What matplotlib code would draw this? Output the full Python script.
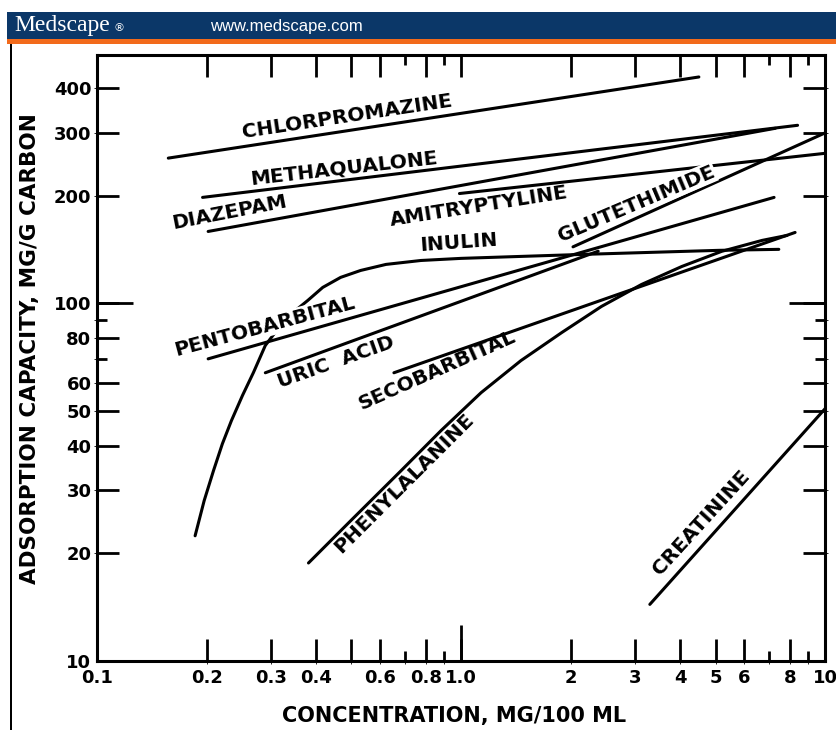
import matplotlib
matplotlib.use("Agg")
import matplotlib.pyplot as plt
from matplotlib.patches import Rectangle

# Adsorption isotherms (x: mg/100 ml, y: mg/g carbon)
chlorpromazine_x = [0.157, 4.5]
chlorpromazine_y = [255, 430]
methaqualone_x = [0.195, 8.4]
methaqualone_y = [198, 315]
diazepam_x = [0.202, 7.3]
diazepam_y = [159, 309]
amitriptyline_x = [0.99, 10.0]
amitriptyline_y = [203, 263]
glutethimide_x = [2.03, 10.0]
glutethimide_y = [144, 300]
uric_acid_x = [0.29, 2.38]
uric_acid_y = [64, 140]
pentobarbital_x = [0.202, 7.24]
pentobarbital_y = [70, 198]
inulin_x = [0.186, 0.197, 0.209, 0.221, 0.234, 0.251, 0.269, 0.290, 0.319,
            0.351, 0.379, 0.417, 0.467, 0.530, 0.622, 0.776, 1.0, 1.46,
            2.18, 3.34, 5.11, 7.46]
inulin_y = [22.4, 28.1, 34.1, 40.5, 47.0, 55.3, 64.1, 76.3, 86.8,
            95.6, 101.9, 110.9, 118.3, 123.7, 128.6, 131.9, 133.7, 135.4,
            137.2, 139.0, 140.8, 141.7]
secobarbital_x = [0.654, 8.27]
secobarbital_y = [64, 158]
phenylalanine_x = [0.381, 0.498, 0.683, 0.881, 1.135, 1.46, 1.89, 2.43,
                   3.13, 4.04, 5.20, 6.71, 7.86]
phenylalanine_y = [18.8, 24.7, 34.0, 44.1, 56.3, 69.2, 82.9, 98.1,
                   113.0, 126.9, 139.9, 150.1, 155]
creatinine_x = [3.3, 10.0]
creatinine_y = [14.4, 50.8]

x_major = [0.1, 0.2, 0.3, 0.4, 0.5, 0.6, 0.8, 1, 2, 3, 4, 5, 6, 8, 10]
x_labels = ["0.1", "0.2", "0.3", "0.4", "", "0.6", "0.8", "1.0",
            "2", "3", "4", "5", "6", "8", "10"]
x_minor = [0.7, 0.9, 7, 9]
y_major = [10, 20, 30, 40, 50, 60, 80, 100, 200, 300, 400]
y_labels = ["10", "20", "30", "40", "50", "60", "80", "100", "200", "300", "400"]
y_minor = [70, 90]

BOLD = dict(family="DejaVu Sans", weight="bold")

fig = plt.figure(figsize=(8.36, 7.30), dpi=100)

# Medscape header bar
fig.patches.append(Rectangle((0.008, 0.945), 0.992, 0.039, transform=fig.transFigure,
                             facecolor="#0b3768", edgecolor="none"))
fig.patches.append(Rectangle((0.008, 0.940), 0.992, 0.006, transform=fig.transFigure,
                             facecolor="#f26a1b", edgecolor="none"))
fig.patches.append(Rectangle((0.012, 0.0), 0.0025, 0.94, transform=fig.transFigure,
                             facecolor="black", edgecolor="none"))
fig.text(0.017, 0.965, "Medscape", color="white", family="Liberation Serif",
         fontsize=17, va="center", ha="left")
fig.text(0.136, 0.962, "®", color="white", family="DejaVu Sans",
         fontsize=8, va="center", ha="left")
fig.text(0.251, 0.964, "www.medscape.com", color="white", family="Liberation Sans",
         fontsize=12, va="center", ha="left")

ax = fig.add_axes([0.116, 0.0945, 0.871, 0.830])
ax.set_xscale("log")
ax.set_yscale("log")
ax.set_xlim(0.1, 10)
ax.set_ylim(10, 495)

lw = 2.2
series = [
    (chlorpromazine_x, chlorpromazine_y),
    (methaqualone_x, methaqualone_y),
    (diazepam_x, diazepam_y),
    (amitriptyline_x, amitriptyline_y),
    (glutethimide_x, glutethimide_y),
    (uric_acid_x, uric_acid_y),
    (pentobarbital_x, pentobarbital_y),
    (inulin_x, inulin_y),
    (secobarbital_x, secobarbital_y),
    (phenylalanine_x, phenylalanine_y),
    (creatinine_x, creatinine_y),
]
for xs, ys in series:
    ax.plot(xs, ys, color="black", lw=lw, solid_capstyle="round",
            solid_joinstyle="round", zorder=2)

# curve labels: text, x, y, angle, white backing
labels = [
    ("CHLORPROMAZINE", 0.485, 334, 8.6, False),
    ("METHAQUALONE", 0.476, 239, 6.5, False),
    ("DIAZEPAM", 0.231, 180, 11, False),
    ("AMITRYPTYLINE", 1.12, 187, 9, False),
    ("INULIN", 0.987, 148, 4, False),
    ("GLUTETHIMIDE", 3.03, 190, 23, True),
    ("PENTOBARBITAL", 0.288, 86, 15, True),
    ("URIC  ACID", 0.452, 68.4, 19.6, False),
    ("SECOBARBITAL", 0.859, 64.9, 24, False),
    ("PHENYLALANINE", 0.697, 31.5, 45, False),
    ("CREATININE", 4.58, 24.4, 47.6, False),
]
for txt, lx, ly, ang, boxed in labels:
    kw = {}
    if boxed:
        kw["bbox"] = dict(boxstyle="square,pad=0.05", facecolor="white", edgecolor="none")
    ax.text(lx, ly, txt, rotation=ang, rotation_mode="anchor", ha="center",
            va="center", fontsize=14.5, zorder=3, **BOLD, **kw)

ax.set_xticks(x_major)
ax.set_xticklabels(x_labels)
ax.set_xticks(x_minor, minor=True)
ax.set_xticklabels([], minor=True)
ax.set_yticks(y_major)
ax.set_yticklabels(y_labels)
ax.set_yticks(y_minor, minor=True)
ax.set_yticklabels([], minor=True)
ax.tick_params(which="both", direction="in", top=True, right=True, width=2, color="black")
ax.tick_params(which="major", length=16)
ax.tick_params(which="minor", length=7)
ax.tick_params(axis="x", which="major", pad=6)
ax.tick_params(axis="y", which="major", pad=4)
for lab in ax.get_xticklabels() + ax.get_yticklabels():
    lab.set_fontfamily("DejaVu Sans")
    lab.set_fontweight("bold")
    lab.set_fontsize(13)

# longer marks at 1.0 (bottom) and 100 (both sides)
sec = ax.secondary_xaxis("bottom")
sec.set_xticks([1])
sec.set_xticklabels([])
sec.tick_params(direction="in", length=26, width=2)
sec.spines[:].set_visible(False)
for side in ("left", "right"):
    sec = ax.secondary_yaxis(side)
    sec.set_yticks([100])
    sec.set_yticklabels([])
    sec.tick_params(direction="in", length=26, width=2)
    sec.spines[:].set_visible(False)

for sp in ax.spines.values():
    sp.set_linewidth(2.2)

ax.set_xlabel("CONCENTRATION, MG/100 ML", fontsize=15, **BOLD)
ax.set_ylabel("ADSORPTION CAPACITY, MG/G CARBON", fontsize=15.5, **BOLD)
ax.xaxis.set_label_coords(0.49, -0.075)
ax.yaxis.set_label_coords(-0.078, 0.515)

fig.savefig("out.png", dpi=100)
